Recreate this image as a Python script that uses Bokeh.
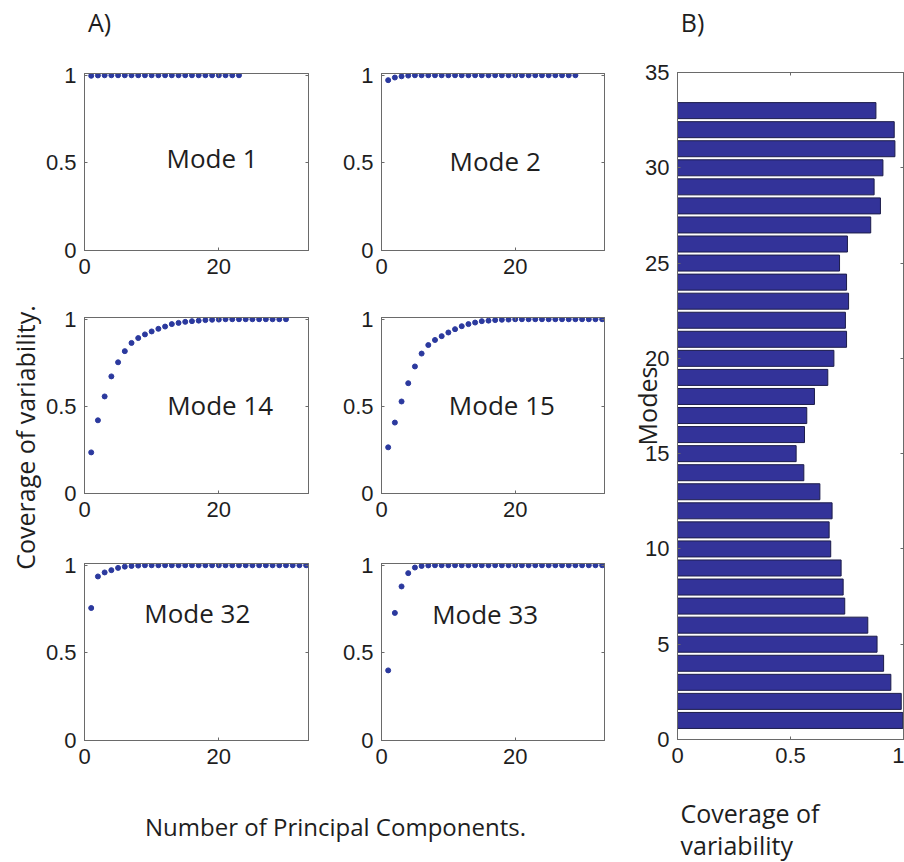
import numpy as np
from bokeh.plotting import figure
from bokeh.layouts import row, column
from bokeh.models import FixedTicker, LinearAxis, Range1d, Label, Title
from bokeh.embed import file_html
from bokeh.resources import INLINE
from bokeh.core.validation import silence
from bokeh.core.validation.warnings import MISSING_RENDERERS

silence(MISSING_RENDERERS, True)

# ---------------- data ----------------
mode1 = [0.997, 0.999, 1.0, 1.0, 1.0, 1.0, 1.0, 1.0, 1.0, 1.0, 1.0, 1.0,
         1.0, 1.0, 1.0, 1.0, 1.0, 1.0, 1.0, 1.0, 1.0, 1.0, 1.0]
mode2 = [0.972, 0.987, 0.994, 0.998, 1.0, 1.0, 1.0, 1.0, 1.0, 1.0, 1.0, 1.0,
         1.0, 1.0, 1.0, 1.0, 1.0, 1.0, 1.0, 1.0, 1.0, 1.0, 1.0, 1.0, 1.0,
         1.0, 1.0, 1.0, 1.0]
mode14 = [0.236, 0.420, 0.557, 0.672, 0.753, 0.817, 0.864, 0.892, 0.913, 0.930,
          0.945, 0.958, 0.972, 0.979, 0.985, 0.989, 0.992, 0.995, 0.997, 0.998,
          1.0, 1.0, 1.0, 1.0, 1.0, 1.0, 1.0, 1.0, 1.0, 1.0]
mode15 = [0.265, 0.407, 0.528, 0.633, 0.729, 0.803, 0.852, 0.881, 0.903, 0.924,
          0.943, 0.960, 0.972, 0.981, 0.989, 0.992, 0.995, 0.997, 0.998, 1.0,
          1.0, 1.0, 1.0, 1.0, 1.0, 1.0, 1.0, 1.0, 1.0, 1.0, 1.0, 1.0, 1.0]
mode32 = [0.756, 0.936, 0.959, 0.972, 0.985, 0.992, 0.996, 0.998, 1.0, 1.0,
          1.0, 1.0, 1.0, 1.0, 1.0, 1.0, 1.0, 1.0, 1.0, 1.0, 1.0, 1.0, 1.0,
          1.0, 1.0, 1.0, 1.0, 1.0, 1.0, 1.0, 1.0, 1.0, 1.0]
mode33 = [0.400, 0.728, 0.879, 0.955, 0.987, 0.996, 0.999, 1.0, 1.0, 1.0,
          1.0, 1.0, 1.0, 1.0, 1.0, 1.0, 1.0, 1.0, 1.0, 1.0, 1.0, 1.0, 1.0,
          1.0, 1.0, 1.0, 1.0, 1.0, 1.0, 1.0, 1.0, 1.0, 1.0]
panel_names = ["Mode 1", "Mode 2", "Mode 14", "Mode 15", "Mode 32", "Mode 33"]

modes = list(range(1, 34))
coverage = [0.997, 0.990, 0.944, 0.912, 0.883, 0.842, 0.740, 0.733, 0.724, 0.678,
            0.671, 0.684, 0.630, 0.559, 0.525, 0.562, 0.572, 0.606, 0.665, 0.692,
            0.748, 0.743, 0.757, 0.748, 0.717, 0.752, 0.855, 0.898, 0.870, 0.909,
            0.962, 0.959, 0.878]

small_xticks = [0, 20]
small_yticks = [0, 0.5, 1]
bar_xticks = [0, 0.5, 1]
bar_yticks = [0, 5, 10, 15, 20, 25, 30, 35]
frac_labels = {0: "0", 0.5: "0.5", 1: "1"}

# ---------------- style ----------------
DOT = "#2b399e"
BAR = "#333399"
BAR_EDGE = "#1c1c4a"
FRAME = "#6a6a6a"
TXT = "#1e1e1e"
TICK_FONT = "Liberation Sans"
LAB_FONT = "Open Sans"
TICK_SIZE = "22px"
LAB_SIZE = "25px"


def style_axis(ax, ticks, show_labels, overrides=None):
    ax.ticker = FixedTicker(ticks=ticks)
    ax.major_tick_in = 3
    ax.major_tick_out = 0
    ax.minor_tick_in = 0
    ax.minor_tick_out = 0
    ax.axis_line_color = FRAME
    ax.major_tick_line_color = FRAME
    ax.minor_tick_line_color = None
    if show_labels:
        ax.major_label_text_font = TICK_FONT
        ax.major_label_text_font_size = TICK_SIZE
        ax.major_label_text_color = TXT
        ax.major_label_standoff = 8
        if overrides:
            ax.major_label_overrides = overrides
    else:
        ax.major_label_text_color = None
        ax.major_label_text_font_size = "0px"
        ax.major_label_standoff = 0


def add_box(p, xticks, yticks):
    top = LinearAxis()
    right = LinearAxis()
    style_axis(top, xticks, False)
    style_axis(right, yticks, False)
    p.add_layout(top, "above")
    p.add_layout(right, "right")


def label_axis(ax, text, standoff, size=LAB_SIZE):
    ax.axis_line_color = None
    ax.major_tick_line_color = None
    ax.minor_tick_line_color = None
    ax.major_label_text_color = None
    ax.major_label_text_font_size = "0px"
    ax.major_label_standoff = 0
    ax.axis_label = text
    ax.axis_label_text_font = LAB_FONT
    ax.axis_label_text_font_size = size
    ax.axis_label_text_font_style = "normal"
    ax.axis_label_text_color = TXT
    ax.axis_label_standoff = standoff


def blank(width, height, bl, br, bt, bb):
    s = figure(width=width, height=height, x_range=Range1d(0, 1), y_range=Range1d(0, 1),
               output_backend="svg", toolbar_location=None, outline_line_color=None,
               min_border_left=bl, min_border_right=br, min_border_top=bt, min_border_bottom=bb)
    s.grid.visible = False
    return s


def text_strip(width, height, bl, br, bb, text, standoff, size=LAB_SIZE):
    s = blank(width, height, bl, br, 0, bb)
    s.yaxis.visible = False
    label_axis(s.xaxis[0], text, standoff, size)
    return s


def small_panel(vals, name, lx, ly, width, bl, br, height, bt, bb):
    p = figure(width=width, height=height, x_range=Range1d(0, 33.35), y_range=Range1d(0, 1.01),
               output_backend="svg", toolbar_location=None,
               min_border_left=bl, min_border_right=br, min_border_top=bt, min_border_bottom=bb,
               outline_line_color=FRAME)
    p.grid.visible = False
    xs = np.arange(1, len(vals) + 1)
    p.scatter(xs, vals, size=5, color=DOT, line_color=DOT)
    style_axis(p.xaxis[0], small_xticks, True)
    style_axis(p.yaxis[0], small_yticks, True, frac_labels)
    add_box(p, small_xticks, small_yticks)
    p.add_layout(Label(x=lx, y=ly, text=name, text_align="center", text_baseline="middle",
                       text_font=LAB_FONT, text_font_size="26px", text_color=TXT))
    return p


# label positions (data coords inside each panel)
label_pos = [(19.0, 0.53), (17.0, 0.51), (20.2, 0.51), (18.0, 0.51), (16.8, 0.725), (15.5, 0.72)]
series = [mode1, mode2, mode14, mode15, mode32, mode33]

C1 = dict(width=288, bl=42, br=22)
C2 = dict(width=290, bl=51, br=16)
R1 = dict(height=250, bt=28, bb=45)
R2 = dict(height=246, bt=22, bb=48)
R3 = dict(height=244, bt=22, bb=45)

figs = []
for i, (vals, name, (lx, ly)) in enumerate(zip(series, panel_names, label_pos)):
    c = C1 if i % 2 == 0 else C2
    r = [R1, R2, R3][i // 2]
    figs.append(small_panel(vals, name, lx, ly, c["width"], c["bl"], c["br"], r["height"], r["bt"], r["bb"]))

# top strips with panel tags
stripA = text_strip(620, 45, 92, 514, 37, "A)", -10)
stripB = text_strip(284, 45, 65, 205, 37, "B)", -10)

# common y label (narrow strip at the left)
yl = blank(42, 740, 40, 0, 44, 0)
yl.xaxis.visible = False
label_axis(yl.yaxis[0], "Coverage of variability.", -7)

# common x label (strip under the panels)
xl = text_strip(620, 77, 50, 0, 63, "Number of Principal Components.", 4, "24px")

# ---------------- bar chart ----------------
pb = figure(width=284, height=739, x_range=Range1d(0, 1), y_range=Range1d(0, 35),
            output_backend="svg", toolbar_location=None, outline_line_color=FRAME,
            min_border_left=57, min_border_right=1, min_border_top=27, min_border_bottom=45)
pb.grid.visible = False
pb.hbar(y=modes, right=coverage, left=0, height=0.84, fill_color=BAR,
        line_color=BAR_EDGE, line_width=1)
style_axis(pb.xaxis[0], bar_xticks, True, frac_labels)
style_axis(pb.yaxis[0], bar_yticks, True)
add_box(pb, bar_xticks, bar_yticks)
ya = pb.yaxis[0]
ya.axis_label = "Modes"
ya.axis_label_text_font = LAB_FONT
ya.axis_label_text_font_size = LAB_SIZE
ya.axis_label_text_font_style = "normal"
ya.axis_label_text_color = TXT
ya.axis_label_standoff = -22

# two-line x label of the bar chart, left aligned with its frame
stripC = blank(284, 78, 57, 1, 76, 0)
stripC.xaxis.visible = False
stripC.yaxis.visible = False
stripC.add_layout(Title(text="Coverage of\nvariability", align="left", offset=3,
                        vertical_align="bottom", standoff=-4, text_font=LAB_FONT,
                        text_font_size=LAB_SIZE, text_font_style="normal",
                        text_color=TXT, text_line_height=0.97), "above")

panels = column(row(figs[0], figs[1]), row(figs[2], figs[3]), row(figs[4], figs[5]))
left_body = column(row(yl, panels), xl)
right_body = column(pb, stripC)
layout = column(row(stripA, stripB), row(left_body, right_body))

open("out.html", "w").write(file_html(layout, INLINE))
